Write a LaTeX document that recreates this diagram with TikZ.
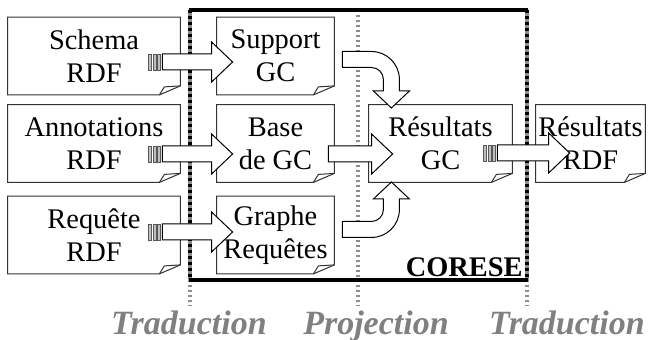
\documentclass[tikz,border=0pt]{standalone}
\usepackage{fontspec}
\setmainfont{Liberation Serif}
\usetikzlibrary{calc}

\tikzset{
    note/.style={minimum width=#1, minimum height=38.5pt, inner sep=0pt, align=center,
        font=\fontsize{14.2}{16.5}\selectfont},
    noteline/.style={draw=black!80, line width=0.5pt},
    fatline/.style={draw=black, fill=white, line width=0.5pt},
    barline/.style={draw=black!65, fill=black!25, line width=0.4pt},
    phaseline/.style={draw=black!45, line width=1.6pt, dash pattern=on 1.2pt off 1.3pt},
    phase/.style={font=\fontsize{17}{20}\selectfont\bfseries\itshape, text=black!50,
        anchor=base, inner sep=0pt},
}

% page with folded corner
\newcommand{\notecorner}[1]{%
    \draw[noteline] (#1.north west) -- (#1.north east) -- ([yshift=4.5pt]#1.south east)
        -- ([xshift=-10.5pt]#1.south east) -- (#1.south west) -- cycle;
    \draw[noteline] ([xshift=-10.5pt]#1.south east) -- ([xshift=-8pt,yshift=4pt]#1.south east)
        -- ([yshift=4.5pt]#1.south east);}

% wide hollow arrow from tail to tip
\newcommand{\fatarrow}[2]{%
    \draw[fatline] let \p1=(#1), \p2=(#2) in
        (\x1,\y1+4pt) -- (\x2-10.5pt,\y1+4pt) -- (\x2-10.5pt,\y1+10pt) -- (\x2,\y1)
        -- (\x2-10.5pt,\y1-10pt) -- (\x2-10.5pt,\y1-4pt) -- (\x1,\y1-4pt) -- cycle;}

\newcommand{\tailbars}[1]{%
    \foreach \dx in {-7, -4.75, -2.5}
        \draw[barline] ([xshift=\dx pt, yshift=-4pt]#1) rectangle ++(1.5pt,8pt);}

\begin{document}
\begin{tikzpicture}[x=0.5pt, y=-0.5pt]
    \useasboundingbox (0,0) rectangle (652,340);

    \foreach \x in {190, 358, 527}
        \draw[phaseline] (\x,10) -- (\x,306);

    % CORESE frame
    \draw[line width=2pt, black!45] (190,10) -- (190,280) (527,10) -- (527,280);
    \draw[line width=2pt, dash pattern=on 1.5pt off 1.5pt] (190,10) -- (190,280) (527,10) -- (527,280);
    \draw[line width=2pt] (189,10) -- (528,10) (189,280) -- (528,280);
    \node[font=\fontsize{14.2}{16.5}\selectfont\bfseries, anchor=base east, inner sep=0pt] (corese) at (523,277) {CORESE};

    \node[note=86pt] (schema) at (94,56) {Schema\\RDF};
    \node[note=86pt] (annot) at (94,143.5) {Annotations\\RDF};
    \node[note=86pt] (requete) at (94,235) {Requête\\RDF};
    \node[note=58.5pt] (support) at (275.5,56) {Support\\GC};
    \node[note=58.5pt] (base) at (275.5,143.5) {Base\\de GC};
    \node[note=58.5pt] (graphe) at (275.5,235) {Graphe\\Requêtes};
    \node[note=71.5pt] (resgc) at (440.5,143.5) {Résultats\\GC};
    \node[note=54.5pt] (resrdf) at (590.5,143.5) {Résultats\\RDF};

    \foreach \n in {schema, annot, requete, support, base, graphe, resgc, resrdf}
        \notecorner{\n};

    \node[phase] (trad1) at (189,335) {Traduction};
    \node[phase] (proj) at (376,335) {Projection};
    \node[phase] (trad2) at (567,335) {Traduction};

    \coordinate (t1) at ($(schema.east)+(-18,6)$);   \coordinate (h1) at ($(support.west)+(16,6)$);
    \coordinate (t2) at ($(annot.east)+(-18,10.5)$); \coordinate (h2) at ($(base.west)+(16,10.5)$);
    \coordinate (t3) at ($(requete.east)+(-18,-3)$); \coordinate (h3) at ($(graphe.west)+(16,-3)$);
    \coordinate (t4) at ($(base.east)+(-6,10.5)$);   \coordinate (h4) at ($(resgc.west)+(24,10.5)$);
    \coordinate (t5) at ($(resgc.east)+(-15,9.5)$);  \coordinate (h5) at ($(resrdf.west)+(34,9.5)$);

    \fatarrow{t1}{h1} \tailbars{t1}
    \fatarrow{t2}{h2} \tailbars{t2}
    \fatarrow{t3}{h3} \tailbars{t3}
    \fatarrow{t4}{h4}
    \fatarrow{t5}{h5} \tailbars{t5}

    % bent arrows into the results
    \coordinate (c1) at ($(support.east)+(8,3.5)$);
    \coordinate (c2) at ($(graphe.east)+(8,-5.5)$);
    \draw[fatline] ([yshift=4pt]c1) -- ++(29,0) arc[start angle=-90, end angle=0, radius=28]
        -- ++(0,11.5) -- ++(10,0) -- ++(-18,17) -- ++(-18,-17) -- ++(10,0) -- ++(0,-11.5)
        arc[start angle=0, end angle=-90, radius=12] -- ++(-29,0) -- cycle;
    \draw[fatline] ([yshift=-4pt]c2) -- ++(29,0) arc[start angle=90, end angle=0, radius=28]
        -- ++(0,-10.5) -- ++(10,0) -- ++(-18,-17) -- ++(-18,17) -- ++(10,0) -- ++(0,10.5)
        arc[start angle=0, end angle=90, radius=12] -- ++(-29,0) -- cycle;
\end{tikzpicture}
\end{document}
